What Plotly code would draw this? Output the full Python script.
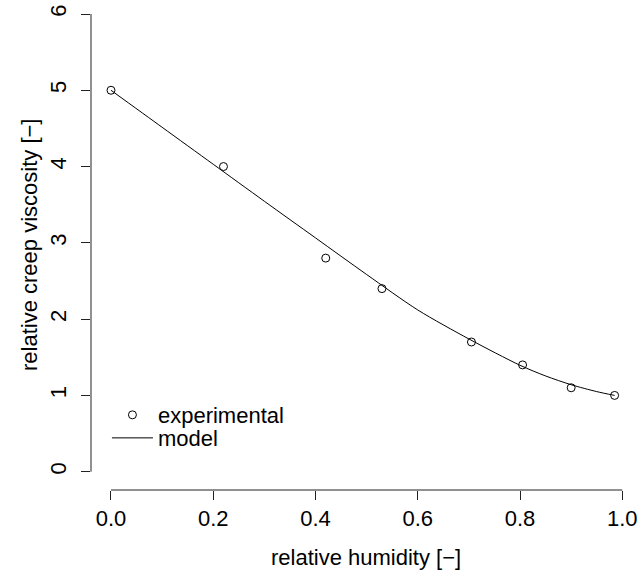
import plotly.graph_objects as go

# experimental data
exp_x = [0.0, 0.22, 0.42, 0.53, 0.705, 0.805, 0.9, 0.985]
exp_y = [5.0, 4.0, 2.8, 2.4, 1.7, 1.4, 1.1, 1.0]

# model curve
model_x = [0.0, 0.1, 0.2, 0.3, 0.4, 0.5, 0.6, 0.7, 0.8, 0.85, 0.9, 0.95, 0.985]
model_y = [5.0, 4.515, 4.03, 3.545, 3.065, 2.585, 2.12, 1.74, 1.395, 1.255, 1.14, 1.05, 1.0]

x_ticks = [0.0, 0.2, 0.4, 0.6, 0.8, 1.0]
x_ticklabels = ["0.0", "0.2", "0.4", "0.6", "0.8", "1.0"]
y_ticks = [0, 1, 2, 3, 4, 5, 6]
y_ticklabels = ["0", "1", "2", "3", "4", "5", "6"]

FONT = "Liberation Sans, Arial, Helvetica, sans-serif"
FS = 22
AX = "#222222"

fig = go.Figure()
fig.add_trace(go.Scatter(
    x=exp_x, y=exp_y, mode="markers", name="experimental", legend="legend",
    marker=dict(symbol="circle-open", size=8, color="black", line=dict(width=1, color="black")),
))
fig.add_trace(go.Scatter(
    x=model_x, y=model_y, mode="lines", name="model", legend="legend2",
    line=dict(color="black", width=1, shape="spline", smoothing=0.8),
))

leg_common = dict(xanchor="left", yanchor="middle", bgcolor="rgba(0,0,0,0)", borderwidth=0,
                  itemwidth=41, font=dict(family=FONT, size=FS, color="black"))

fig.update_layout(
    width=641, height=575,
    margin=dict(l=91, r=0, t=0, b=85),
    paper_bgcolor="white", plot_bgcolor="white",
    font=dict(family=FONT, size=FS, color="black"),
    showlegend=True,
    legend=dict(x=0.029, y=0.153, **leg_common),
    legend2=dict(x=0.029, y=0.106, **leg_common),
    xaxis=dict(range=[-0.0391, 1.0366], tickvals=x_ticks, ticktext=x_ticklabels,
               ticks="outside", ticklen=9, tickwidth=1, tickcolor=AX,
               showgrid=False, zeroline=False, showline=False,
               tickfont=dict(family=FONT, size=FS)),
    yaxis=dict(range=[-0.24, 6.1835], tickvals=y_ticks, ticktext=y_ticklabels,
               ticks="outside", ticklen=9, tickwidth=1, tickcolor=AX,
               showgrid=False, zeroline=False, showline=False, tickangle=-90,
               ticklabelstandoff=6, tickfont=dict(family=FONT, size=FS)),
    shapes=[
        dict(type="line", xref="x", yref="paper", x0=x_ticks[0], x1=x_ticks[-1], y0=0, y1=0,
             line=dict(color=AX, width=1)),
        dict(type="line", xref="paper", yref="y", x0=0, x1=0, y0=y_ticks[0], y1=y_ticks[-1],
             line=dict(color=AX, width=1)),
    ],
    annotations=[
        dict(text="relative humidity [\u2212]", xref="paper", yref="paper", x=0.5, y=0,
             yshift=-67, xanchor="center", yanchor="middle", showarrow=False,
             font=dict(family=FONT, size=FS)),
        dict(text="relative creep viscosity [\u2212]", xref="paper", yref="paper", x=0, y=0.5,
             xshift=-62, xanchor="center", yanchor="middle", textangle=-90, showarrow=False,
             font=dict(family=FONT, size=FS)),
    ],
)

fig.write_html("out.html", config={"displayModeBar": False},
               post_script="document.body.style.margin='0';")
